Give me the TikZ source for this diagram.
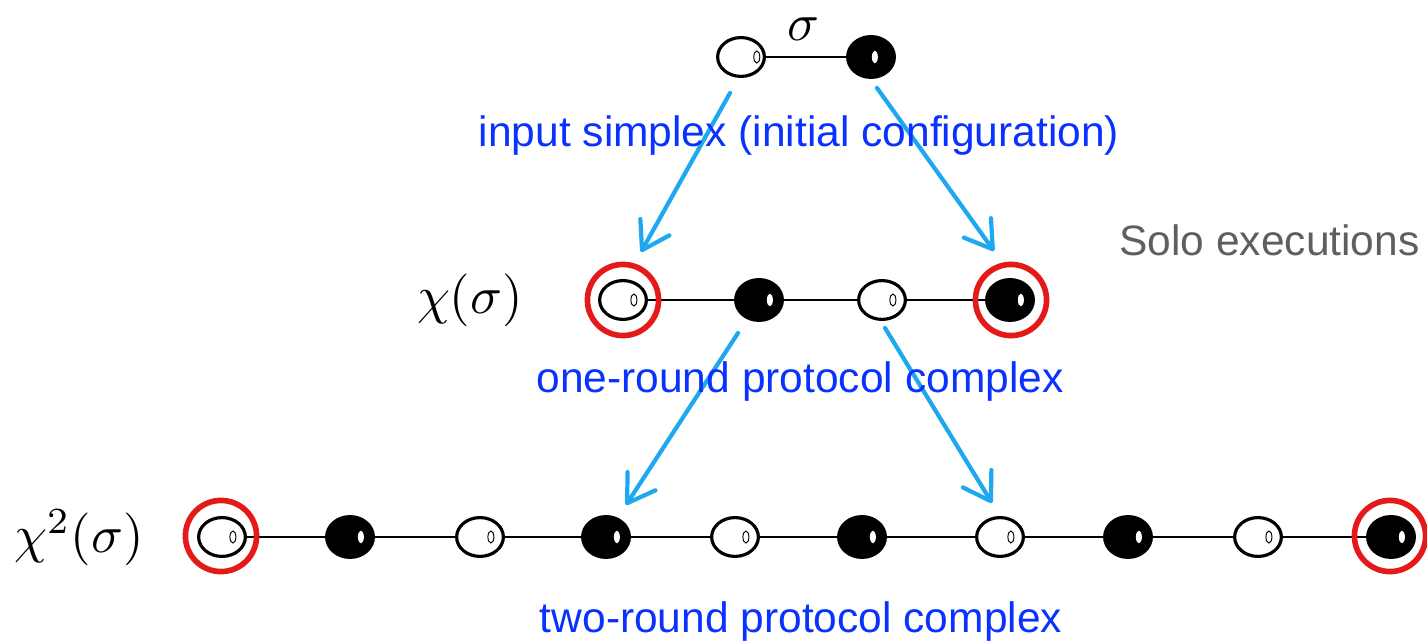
\documentclass[tikz,border=0pt]{standalone}
\usepackage{graphicx}
\usepackage{fontspec}
\newfontfamily\lab{Liberation Sans}
\usetikzlibrary{shapes.geometric,arrows.meta}
\definecolor{labblue}{RGB}{10,50,255}
\definecolor{arrblue}{RGB}{30,168,240}
\definecolor{solored}{RGB}{228,25,25}
\definecolor{sologray}{RGB}{95,95,95}
\newcommand{\bigmath}[1]{\scalebox{3}{$#1$}}
\begin{document}
\begin{tikzpicture}[x=0.02cm,y=-0.02cm,
  wv/.style={ellipse, draw=black, fill=white, line width=1.8pt,
    minimum width=26.6pt, minimum height=22.1pt, inner sep=0pt,
    path picture={\draw[line width=0.55pt] ([xshift=#1]path picture bounding box.center) ellipse (1.7pt and 3.4pt);}},
  wv/.default=6.2pt,
  bv/.style={ellipse, draw=black, fill=black, line width=1.8pt,
    minimum width=26.6pt, minimum height=23.2pt, inner sep=0pt,
    path picture={\fill[white] ([xshift=#1]path picture bounding box.center) ellipse (1.7pt and 3.6pt);}},
  bv/.default=6.2pt,
  edge/.style={black, line width=1.7pt},
  solo/.style={circle, draw=solored, line width=3.2pt, minimum size=40.5pt, inner sep=0pt},
  flow/.style={arrblue, line width=2.4pt, line cap=round,
    -{Straight Barb[length=15pt, width=19pt, line width=2.4pt, round]}},
  blab/.style={font=\lab\fontsize{24.2}{29}\selectfont, text=labblue, inner sep=0pt},
  glab/.style={font=\lab\fontsize{24.2}{29}\selectfont, text=sologray, inner sep=0pt},
  mlab/.style={inner sep=0pt}]
\useasboundingbox (0,0) rectangle (1427,641);

% top row
\node[wv=9pt] (s1) at (741,57) {};
\node[bv=2.2pt] (s2) at (871,57) {};
\draw[edge] (s1) -- (s2);
\node[mlab] (sig) at (803,29) {\bigmath{\sigma}};

% middle row
\node[wv] (m1) at (623,300) {};
\node[bv] (m2) at (759,300) {};
\node[wv] (m3) at (882,300) {};
\node[bv] (m4) at (1010,300) {};
\draw[edge] (m1) -- (m2);
\draw[edge] (m2) -- (m3);
\draw[edge] (m3) -- (m4);
\node[solo] (r1) at (m1) {};
\node[solo] (r2) at (1011,300) {};
\node[mlab] (chi1) at (470,300) {\bigmath{\chi(\sigma)}};

% bottom row
\node[wv] (b1) at (222,537) {};
\node[bv] (b2) at (350,537) {};
\node[wv] (b3) at (480,537) {};
\node[bv] (b4) at (606,537) {};
\node[wv] (b5) at (735,537) {};
\node[bv] (b6) at (862,537) {};
\node[wv] (b7) at (1000,537) {};
\node[bv] (b8) at (1128,537) {};
\node[wv] (b9) at (1258,537) {};
\node[bv] (b10) at (1391,537) {};
\foreach \a/\b in {b1/b2,b2/b3,b3/b4,b4/b5,b5/b6,b6/b7,b7/b8,b8/b9,b9/b10}
  \draw[edge] (\a) -- (\b);
\node[solo] (r3) at (221,536) {};
\node[solo] (r4) at (1390,536) {};
\node[mlab] (chi2) at (79,538) {\bigmath{\chi^2(\sigma)}};

% arrows
\coordinate (a1s) at (730,93);  \coordinate (a1e) at (641,252);
\coordinate (a2s) at (877,88);  \coordinate (a2e) at (994,251);
\coordinate (a3s) at (738,333); \coordinate (a3e) at (626,505);
\coordinate (a4s) at (885,328); \coordinate (a4e) at (992,503);
\draw[flow] (a1s) -- (a1e);
\draw[flow] (a2s) -- (a2e);
\draw[flow] (a3s) -- (a3e);
\draw[flow] (a4s) -- (a4e);

% labels
\node[blab, anchor=base] (t1) at (799,147) {input simplex (initial configuration)};
\node[blab, anchor=base] (t2) at (800,393) {one-round protocol complex};
\node[blab, anchor=base] (t3) at (801,633) {two-round protocol complex};
\node[glab, anchor=base west] (t4) at (1119,256) {Solo executions};
\end{tikzpicture}
\end{document}
